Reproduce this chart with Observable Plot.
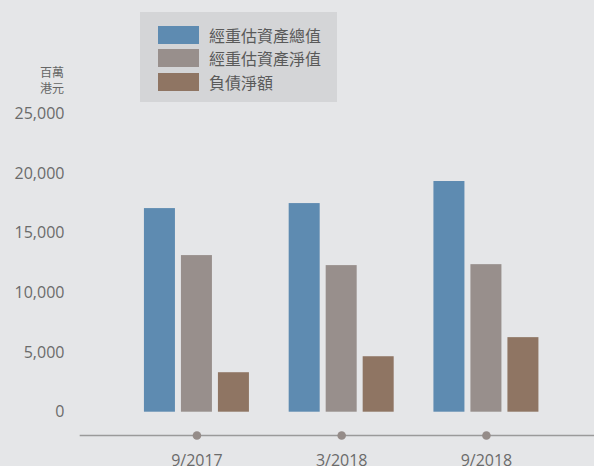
<!DOCTYPE html>
<html><head><meta charset="utf-8">
<script src="https://cdn.jsdelivr.net/npm/d3@7"></script>
<script src="https://cdn.jsdelivr.net/npm/@observablehq/plot@0.6"></script>
<style>
html,body{margin:0;padding:0;background:#e5e6e8;}
#wrap{position:relative;width:594px;height:466px;background:#e5e6e8;font-family:"Open Sans","Noto Sans CJK TC",sans-serif;overflow:hidden;}
.unit{position:absolute;right:530px;font-size:12px;height:14px;line-height:14px;color:#666;text-align:right;font-family:"Noto Sans CJK TC",sans-serif;white-space:nowrap;}
#legend{position:absolute;left:140px;top:12px;width:197px;height:90px;background:#d4d5d7;}
.row{position:absolute;left:18px;height:18px;display:flex;align-items:center;}
.sw{width:41px;height:18px;margin-right:10px;}
.lab{font-size:16px;line-height:18px;color:#5a5a5a;font-family:"Noto Sans CJK TC",sans-serif;white-space:nowrap;}
svg{position:absolute;left:0;top:0;}
</style></head>
<body><div id="wrap"></div>
<script>
const dates = ["9/2017", "3/2018", "9/2018"];
const series = ["經重估資產總值", "經重估資產淨值", "負債淨額"];
const grossValues = [17070, 17490, 19340];
const netValues = [13130, 12290, 12370];
const debtValues = [3310, 4650, 6250];
const yTicks = [0, 5000, 10000, 15000, 20000, 25000];
const unitLines = ["百萬", "港元"];
const colors = ["#5e8bb1", "#988f8c", "#8f7563"];

const rows = [];
dates.forEach((d, i) => {
  rows.push({date: d, series: series[0], value: grossValues[i]});
  rows.push({date: d, series: series[1], value: netValues[i]});
  rows.push({date: d, series: series[2], value: debtValues[i]});
});

const wrap = document.getElementById("wrap");

const chart = Plot.plot({
  width: 594,
  height: 466,
  marginTop: 113.5,
  marginBottom: 54.3,
  marginLeft: 80,
  marginRight: 0,
  style: {background: "transparent", fontFamily: "'Open Sans', sans-serif", fontSize: "16px", color: "#6b6b6b"},
  fx: {domain: dates, paddingInner: 0.171, paddingOuter: 0.361, align: 0.54, round: false, axis: "bottom", tickSize: 0, tickPadding: 42, label: null},
  x: {domain: series, paddingInner: 0.162, paddingOuter: 0.2027, round: false, axis: null},
  y: {domain: [0, 25000], ticks: yTicks, tickFormat: d3.format(","), tickSize: 0, tickPadding: 72.5, label: null},
  color: {domain: series, range: colors},
  marks: [
    Plot.frame({anchor: "bottom", facet: "super", stroke: "#9a9a9a", strokeWidth: 1.5, dy: 23.3, insetLeft: -56.5, insetRight: -48}),
    Plot.barY(rows, {fx: "date", x: "series", y: "value", fill: "series"}),
    Plot.dot(dates, {fx: d => d, frameAnchor: "bottom", dy: 23.3, r: 4.3, fill: "#958c89"})
  ]
});
wrap.appendChild(chart);

unitLines.forEach((t, i) => {
  const u = document.createElement("div");
  u.className = "unit";
  u.style.top = (65 + i * 16) + "px";
  u.textContent = t;
  wrap.appendChild(u);
});

const legend = document.createElement("div");
legend.id = "legend";
series.forEach((s, i) => {
  const r = document.createElement("div");
  r.className = "row";
  r.style.top = (14 + i * 23.3) + "px";
  r.innerHTML = `<div class="sw" style="background:${colors[i]}"></div><span class="lab">${s}</span>`;
  legend.appendChild(r);
});
wrap.appendChild(legend);
</script></body></html>
